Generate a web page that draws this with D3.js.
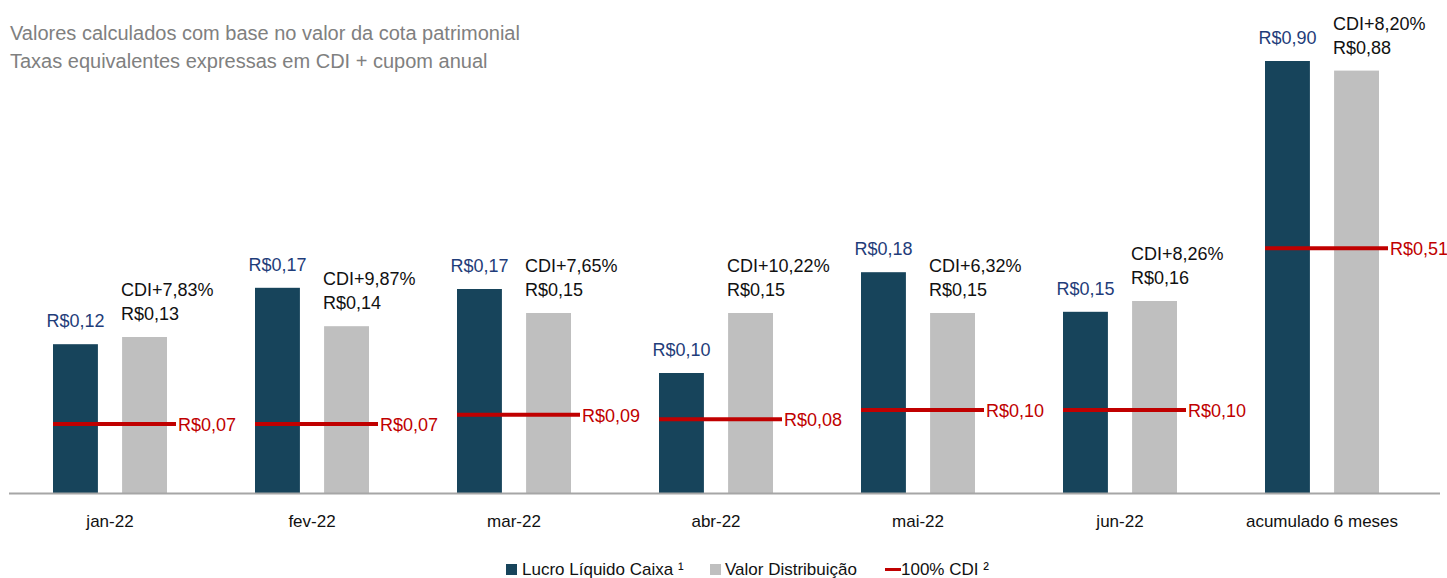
<!DOCTYPE html>
<html>
<head>
<meta charset="utf-8">
<script src="https://cdn.jsdelivr.net/npm/d3@7.9.0/dist/d3.min.js"></script>
<style>
  body { margin: 0; background: #fff; }
  svg { display: block; font-family: "Liberation Sans", Arial, sans-serif; }
</style>
</head>
<body>
<svg id="chart" width="1447" height="578"></svg>
<script>
const categories = ['jan-22', 'fev-22', 'mar-22', 'abr-22', 'mai-22', 'jun-22', 'acumulado 6 meses'];
const lucroCaixa = [0.124, 0.171, 0.170, 0.100, 0.184, 0.151, 0.90];
const valorDistribuicao = [0.130, 0.139, 0.150, 0.150, 0.150, 0.160, 0.88];
const cdi100 = [0.07, 0.07, 0.09, 0.08, 0.10, 0.10, 0.51];
const spreadCdi = [7.83, 9.87, 7.65, 10.22, 6.32, 8.26, 8.20];
const titleLines = ['Valores calculados com base no valor da cota patrimonial',
                    'Taxas equivalentes expressas em CDI + cupom anual'];

const DARK = '#17445b', GRAY = '#bfbfbf', RED = '#c00000', NAVY = '#1f3d7a';
const baseline = 493;

const svg = d3.select('#chart');

const fmt = v => 'R$' + v.toFixed(2).replace('.', ',');
const fmtPct = v => 'CDI+' + v.toFixed(2).replace('.', ',') + '%';

// group positions
const x0 = d3.scaleBand().domain(categories).range([9, 1423]);
const x1 = d3.scaleBand().domain(['lucro', 'dist']).range([44, 158]).paddingInner(0.35);

// monthly bars, accumulated bars and the CDI line each sit on their own axis
const yMonth = d3.scaleLinear().domain([0, 0.35]).range([baseline, baseline - 420]);
const yAcum = d3.scaleLinear().domain([0, 0.9]).range([baseline, baseline - 432]);
const yCdi = d3.scaleLinear().domain([0.07, 0.10]).range([baseline - 69, baseline - 83]);

const last = categories.length - 1;
const yBar = i => (i === last ? yAcum : yMonth);
const yLine = i => (i === last ? yAcum : yCdi);

// title
svg.selectAll('text.title')
  .data(titleLines)
  .join('text')
  .attr('class', 'title')
  .attr('x', 10)
  .attr('y', (d, i) => 40 + i * 28)
  .attr('font-size', 20)
  .attr('fill', '#808080')
  .text(d => d);

const groups = svg.selectAll('g.grp')
  .data(categories)
  .join('g')
  .attr('class', 'grp')
  .attr('transform', d => `translate(${x0(d)},0)`);

// dark bars
groups.append('rect')
  .attr('x', x1('lucro'))
  .attr('width', x1.bandwidth())
  .attr('y', (d, i) => yBar(i)(lucroCaixa[i]))
  .attr('height', (d, i) => baseline - yBar(i)(lucroCaixa[i]))
  .attr('fill', DARK);

// gray bars
groups.append('rect')
  .attr('x', x1('dist'))
  .attr('width', x1.bandwidth())
  .attr('y', (d, i) => yBar(i)(valorDistribuicao[i]))
  .attr('height', (d, i) => baseline - yBar(i)(valorDistribuicao[i]))
  .attr('fill', GRAY);

// dark bar labels
groups.append('text')
  .attr('x', x1('lucro') + x1.bandwidth() / 2)
  .attr('y', (d, i) => yBar(i)(lucroCaixa[i]) - 17)
  .attr('text-anchor', 'middle')
  .attr('font-size', 18)
  .attr('fill', NAVY)
  .text((d, i) => fmt(lucroCaixa[i]));

// gray bar labels (two lines)
const gl = groups.append('text')
  .attr('font-size', 18)
  .attr('fill', '#111');
gl.append('tspan')
  .attr('x', x1('dist') - 1)
  .attr('y', (d, i) => yBar(i)(valorDistribuicao[i]) - 41)
  .text((d, i) => fmtPct(spreadCdi[i]));
gl.append('tspan')
  .attr('x', x1('dist') - 1)
  .attr('y', (d, i) => yBar(i)(valorDistribuicao[i]) - 17)
  .text((d, i) => fmt(valorDistribuicao[i]));

// 100% CDI line
groups.append('line')
  .attr('x1', x1('lucro'))
  .attr('x2', x1('dist') + x1.bandwidth() + 9)
  .attr('y1', (d, i) => yLine(i)(cdi100[i]))
  .attr('y2', (d, i) => yLine(i)(cdi100[i]))
  .attr('stroke', RED)
  .attr('stroke-width', 4);

groups.append('text')
  .attr('x', x1('dist') + x1.bandwidth() + 11)
  .attr('y', (d, i) => yLine(i)(cdi100[i]) + 7)
  .attr('font-size', 18)
  .attr('fill', RED)
  .text((d, i) => fmt(cdi100[i]));

// category axis
svg.append('line')
  .attr('x1', 9).attr('x2', 1440)
  .attr('y1', baseline + 0.5).attr('y2', baseline + 0.5)
  .attr('stroke', '#a6a6a6')
  .attr('stroke-width', 2);

groups.append('text')
  .attr('x', x0.bandwidth() / 2)
  .attr('y', baseline + 34)
  .attr('text-anchor', 'middle')
  .attr('font-size', 17)
  .attr('fill', '#111')
  .text(d => d);

// legend
const legend = svg.append('g').attr('font-size', 17).attr('fill', '#111');
legend.append('rect').attr('x', 506).attr('y', 564).attr('width', 11).attr('height', 11).attr('fill', DARK);
legend.append('text').attr('x', 522).attr('y', 575).text('Lucro Líquido Caixa ¹');
legend.append('rect').attr('x', 710).attr('y', 564).attr('width', 11).attr('height', 11).attr('fill', GRAY);
legend.append('text').attr('x', 725).attr('y', 575).text('Valor Distribuição');
legend.append('line').attr('x1', 885).attr('x2', 901).attr('y1', 569.5).attr('y2', 569.5)
  .attr('stroke', RED).attr('stroke-width', 3);
legend.append('text').attr('x', 901).attr('y', 575).text('100% CDI ²');
</script>
</body>
</html>
